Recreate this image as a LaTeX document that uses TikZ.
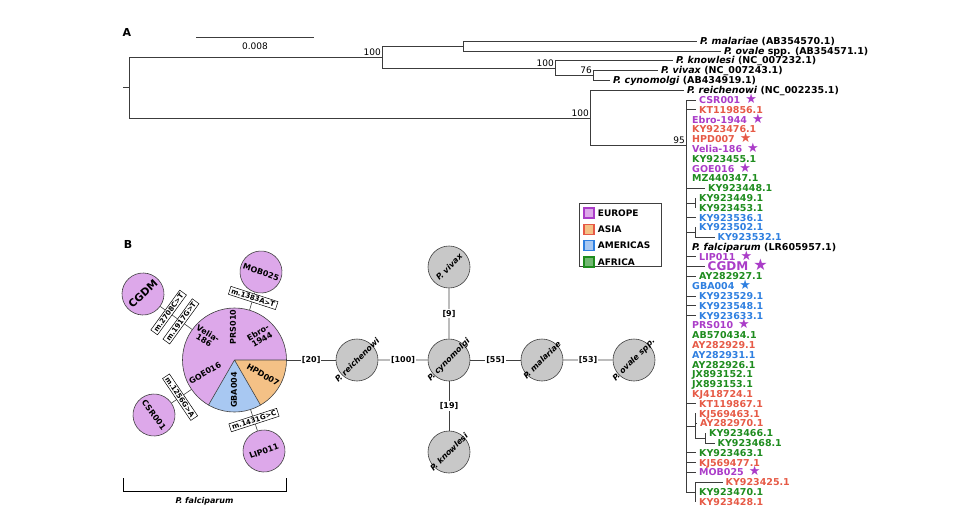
\documentclass[tikz,border=0pt]{standalone}
\usepackage{fontspec}
\setmainfont{DejaVu Sans}
\newfontfamily\starfont{DejaVu Sans}
\usetikzlibrary{positioning, calc}

\definecolor{europe}{HTML}{AA3CC8}
\definecolor{asia}{HTML}{E65A46}
\definecolor{americas}{HTML}{2E7FE0}
\definecolor{africa}{HTML}{1E8C1E}
\definecolor{europefill}{HTML}{DDA8EA}
\definecolor{asiafill}{HTML}{F4C186}
\definecolor{americasfill}{HTML}{A8C8F2}
\definecolor{africafill}{HTML}{72B872}
\definecolor{outfill}{HTML}{C8C8C8}
\definecolor{rim}{HTML}{404040}
\definecolor{branch}{HTML}{3C3C3C}

\newcommand{\fsz}[1]{\fontsize{#1}{#1}\selectfont}
\newcommand{\tipstar}[2][13]{\hspace{5pt}{\starfont\mdseries\upshape\fsz{#1}\color{#2}★}}

\tikzset{x=1pt, y=1pt,
  tree/.style={draw=branch, line width=0.8pt},
  tip/.style={anchor=west, inner xsep=3pt, inner ysep=0pt, text height=6.9pt, text depth=0pt, font=\fsz{9.5}\bfseries},
  eu/.style={tip, text=europe},
  as/.style={tip, text=asia},
  am/.style={tip, text=americas},
  af/.style={tip, text=africa},
  outtip/.style={tip, text=black},
  boot/.style={anchor=south east, inner sep=1pt, font=\fsz{9}},
  hap/.style={circle, draw=rim, line width=0.6pt, minimum size=42pt, inner sep=0pt, fill=europefill, font=\fsz{8}\bfseries},
  outhap/.style={hap, fill=outfill, font=\fsz{8}\bfseries\itshape},
  hapname/.style={font=\fsz{8}\bfseries, inner sep=0pt},
  link/.style={draw=rim, line width=0.6pt},
  steps/.style={fill=white, inner sep=1pt, font=\fsz{8}\bfseries},
  mut/.style={draw=black, fill=white, line width=0.5pt, inner xsep=2pt, inner ysep=1.5pt, font=\fsz{7}\bfseries},
  legbox/.style={minimum size=10pt, inner sep=0pt, line width=1.3pt},
  legtext/.style={font=\fsz{9}\bfseries, inner sep=1pt},
  panel/.style={font=\fsz{11}\bfseries},
}

\begin{document}
\begin{tikzpicture}
\useasboundingbox (0,0) rectangle (960,-530);

% ---------- A: tree ----------
\node[panel] (pA) at (127,-32) {A};
\coordinate (bar0) at (196,-37);
\coordinate (bar1) at (314,-37);
\draw[tree] (bar0) -- node[below=2pt, font=\fsz{9}] (barlab) {0.008} (bar1);

\coordinate (rootstub) at (123,-87.5);
\coordinate (root) at (129,-87.5);
\coordinate (n1) at (382,-57);
\coordinate (n2) at (463,-46);
\coordinate (n3) at (555,-68);
\coordinate (n4) at (593,-75);
\coordinate (n5) at (590,-118);
\coordinate (n6) at (686,-145);

\node[outtip] (mal) at (697,-41) {\textit{P. malariae} (AB354570.1)};
\node[outtip] (ova) at (721,-51) {\textit{P. ovale} spp. (AB354571.1)};
\node[outtip] (kno) at (673,-60) {\textit{P. knowlesi} (NC\_007232.1)};
\node[outtip] (viv) at (658,-70) {\textit{P. vivax} (NC\_007243.1)};
\node[outtip] (cyn) at (610,-80) {\textit{P. cynomolgi} (AB434919.1)};
\node[outtip] (rei) at (684,-90) {\textit{P. reichenowi} (NC\_002235.1)};

\node[eu] (csr001) at (696,-100) {CSR001\tipstar{europe}};
\node[as] (kt119856) at (696,-109.8) {KT119856.1};
\node[eu] (ebro) at (689,-119.6) {Ebro-1944\tipstar{europe}};
\node[as] (ky923476) at (689,-129.4) {KY923476.1};
\node[as] (hpd007) at (689,-139.2) {HPD007\tipstar{asia}};
\node[eu] (velia) at (689,-149) {Velia-186\tipstar{europe}};
\node[af] (ky923455) at (689,-158.8) {KY923455.1};
\node[eu] (goe016) at (689,-168.6) {GOE016\tipstar{europe}};
\node[af] (mz440347) at (689,-178.4) {MZ440347.1};
\node[af] (ky923448) at (705,-188.2) {KY923448.1};
\node[af] (ky923449) at (696,-198) {KY923449.1};
\node[af] (ky923453) at (696,-207.8) {KY923453.1};
\node[am] (ky923536) at (696,-217.6) {KY923536.1};
\node[am] (ky923502) at (696,-227.4) {KY923502.1};
\node[am] (ky923532) at (714.5,-237.2) {KY923532.1};
\node[outtip] (lr605957) at (689,-247) {\textit{P. falciparum} (LR605957.1)};
\node[eu] (lip011) at (696,-256.8) {LIP011\tipstar{europe}};
\node[eu, font=\fsz{12}\bfseries, text height=8.7pt] (cgdm) at (704.5,-266.6) {CGDM\tipstar[16]{europe}};
\node[af] (ay282927) at (696,-276.4) {AY282927.1};
\node[am] (gba004) at (689,-286.2) {GBA004\tipstar{americas}};
\node[am] (ky923529) at (696,-296) {KY923529.1};
\node[am] (ky923548) at (696,-305.8) {KY923548.1};
\node[am] (ky923633) at (696,-315.6) {KY923633.1};
\node[eu] (prs010) at (689,-325.4) {PRS010\tipstar{europe}};
\node[af] (ab570434) at (689,-335.2) {AB570434.1};
\node[as] (ay282929) at (689,-345) {AY282929.1};
\node[am] (ay282931) at (689,-354.8) {AY282931.1};
\node[af] (ay282926) at (689,-364.6) {AY282926.1};
\node[af] (jx893152) at (689,-374.4) {JX893152.1};
\node[af] (jx893153) at (689,-384.2) {JX893153.1};
\node[as] (kj418724) at (689,-394) {KJ418724.1};
\node[as] (kt119867) at (696,-403.8) {KT119867.1};
\node[as] (kj569463) at (696,-413.6) {KJ569463.1};
\node[as] (ay282970) at (697,-423.4) {AY282970.1};
\node[af] (ky923466) at (706,-433.2) {KY923466.1};
\node[af] (ky923468) at (714.5,-443) {KY923468.1};
\node[af] (ky923463) at (696,-452.8) {KY923463.1};
\node[as] (kj569477) at (696,-462.6) {KJ569477.1};
\node[eu] (mob025) at (696,-472.4) {MOB025\tipstar{europe}};
\node[as] (ky923425) at (722.5,-482.2) {KY923425.1};
\node[af] (ky923470) at (696,-492) {KY923470.1};
\node[as] (ky923428) at (696,-501.8) {KY923428.1};

\coordinate (c1) at (695,-202.9);
\coordinate (c2) at (695,-232.3);
\coordinate (c3) at (695,-425.9);
\coordinate (c4) at (705,-438.1);
\coordinate (c5) at (695,-492);

\draw[tree] (rootstub) -- (root)
  (root) |- (n1) (root) |- (n5)
  (n1) |- (n2) (n1) |- (n3)
  (n2) |- (mal.west) (n2) |- (ova.west)
  (n3) |- (kno.west) (n3) |- (n4)
  (n4) |- (viv.west) (n4) |- (cyn.west)
  (n5) |- (rei.west) (n5) |- (n6)
  (n6) |- (csr001.west) (n6) |- (c5);
\foreach \t in {kt119856, ky923448, ky923536, lip011, cgdm, ay282927, ky923529,
                ky923548, ky923633, kt119867, ky923463, kj569477, mob025}
  \draw[tree] (n6 |- \t.west) -- (\t.west);
\draw[tree] (n6 |- c1) -- (c1) (c1) |- (ky923449.west) (c1) |- (ky923453.west)
  (n6 |- c2) -- (c2) (c2) |- (ky923502.west) (c2) |- (ky923532.west)
  (n6 |- c3) -- (c3) (c3) |- (kj569463.west) (c3) |- (ay282970.west) (c3) |- (c4)
  (c4) |- (ky923466.west) (c4) |- (ky923468.west)
  (c5) |- (ky923425.west) (c5) |- (ky923470.west) (c5) |- (ky923428.west);

\node[boot] (b1) at (n1) {100};
\node[boot] (b3) at (n3) {100};
\node[boot] (b4) at (n4) {76};
\node[boot] (b5) at (n5) {100};
\node[boot] (b6) at (n6) {95};

% legend
\draw[rim, line width=0.6pt] (579,-203) rectangle (661,-266);
\node[legbox, draw=europe, fill=europefill] (keyeu) at (589,-213) {};
\node[legtext, right=2pt of keyeu] (keyeutext) {EUROPE};
\node[legbox, draw=asia, fill=asiafill, below=5pt of keyeu] (keyas) {};
\node[legtext, right=2pt of keyas] (keyastext) {ASIA};
\node[legbox, draw=americas, fill=americasfill, below=5pt of keyas] (keyam) {};
\node[legtext, right=2pt of keyam] (keyamtext) {AMERICAS};
\node[legbox, draw=africa, fill=africafill, below=5pt of keyam] (keyaf) {};
\node[legtext, right=2pt of keyaf] (keyaftext) {AFRICA};

% ---------- B: network ----------
\node[panel] (pB) at (128,-244) {B};
\node[circle, minimum size=104pt, inner sep=0pt] (pie) at (234.5,-360) {};
\fill[europefill] (pie.center) -- ++(0:52) arc[start angle=0, end angle=240, radius=52] -- cycle;
\fill[asiafill] (pie.center) -- ++(0:52) arc[start angle=0, end angle=-60, radius=52] -- cycle;
\fill[americasfill] (pie.center) -- ++(-60:52) arc[start angle=-60, end angle=-120, radius=52] -- cycle;
\draw[link] (pie.center) -- (pie.0) (pie.center) -- (pie.-60) (pie.center) -- (pie.-120);
\draw[link] (pie.center) circle[radius=52];

\node[hapname, rotate=90] (tprs) at (233,-327) {PRS010};
\node[hapname, rotate=30, align=center] (tebro) at (260,-336) {Ebro-\\1944};
\node[hapname, rotate=-30, align=center] (tvelia) at (206,-337) {Velia-\\186};
\node[hapname, rotate=30] (tgoe) at (205,-373) {GOE016};
\node[hapname, rotate=-30] (thpd) at (263,-375) {HPD007};
\node[hapname, rotate=90] (tgba) at (234,-390) {GBA004};

\node[hap, rotate=-19] (hmob) at (261,-272) {\makebox[0pt]{MOB025}};
\node[hap, rotate=43, font=\fsz{10.5}\bfseries] (hcgdm) at (143,-294) {\makebox[0pt]{CGDM}};
\node[hap, rotate=-53] (hcsr) at (154,-415) {\makebox[0pt]{CSR001}};
\node[hap, rotate=20] (hlip) at (264,-451) {\makebox[0pt]{LIP011}};

\draw[link] (pie) -- (hmob) (pie) -- (hcgdm) (pie) -- (hcsr) (pie) -- (hlip);
\node[mut, rotate=-18] (m1383) at ($(pie)!0.705!(hmob)$) {m.1383A>T};
\node[mut, rotate=54] (m1917) at ($(pie)!0.585!(hcgdm)$) {m.1917G>T};
\node[mut, rotate=54] (m2708) at ($(pie)!0.72!(hcgdm)$) {m.2708C>T};
\node[mut, rotate=-56] (m1256) at ($(pie)!0.676!(hcsr)$) {m.1256G>A};
\node[mut, rotate=18] (m1431) at ($(pie)!0.66!(hlip)$) {m.1431G>C};

\node[outhap, rotate=45] (reich) at (357,-360) {\makebox[0pt]{P. reichenowi}};
\node[outhap, rotate=45] (cyno) at (449,-360) {\makebox[0pt]{P. cynomolgi}};
\node[outhap, rotate=45] (mala) at (542,-360) {\makebox[0pt]{P. malariae}};
\node[outhap, rotate=45] (oval) at (634,-360) {\makebox[0pt]{P. ovale spp.}};
\node[outhap, rotate=45] (viva) at (449,-267) {\makebox[0pt]{P. vivax}};
\node[outhap, rotate=45] (know) at (449,-452) {\makebox[0pt]{P. knowlesi}};

\draw[link] (pie) -- node[steps] (s20) {[20]} (reich);
\draw[link] (reich) -- node[steps] (s100) {[100]} (cyno);
\draw[link] (cyno) -- node[steps] (s55) {[55]} (mala);
\draw[link] (mala) -- node[steps] (s53) {[53]} (oval);
\draw[link] (cyno) -- node[steps] (s9) {[9]} (viva);
\draw[link] (cyno) -- node[steps] (s19) {[19]} (know);

\coordinate (brl) at (123,-478);
\coordinate (brr) at (286,-478);
\draw[link, draw=black] (brl) -- ++(0,-13) -| (brr);
\node[font=\fsz{8}\bfseries\itshape] (falc) at (204.5,-501) {P. falciparum};
\end{tikzpicture}
\end{document}
